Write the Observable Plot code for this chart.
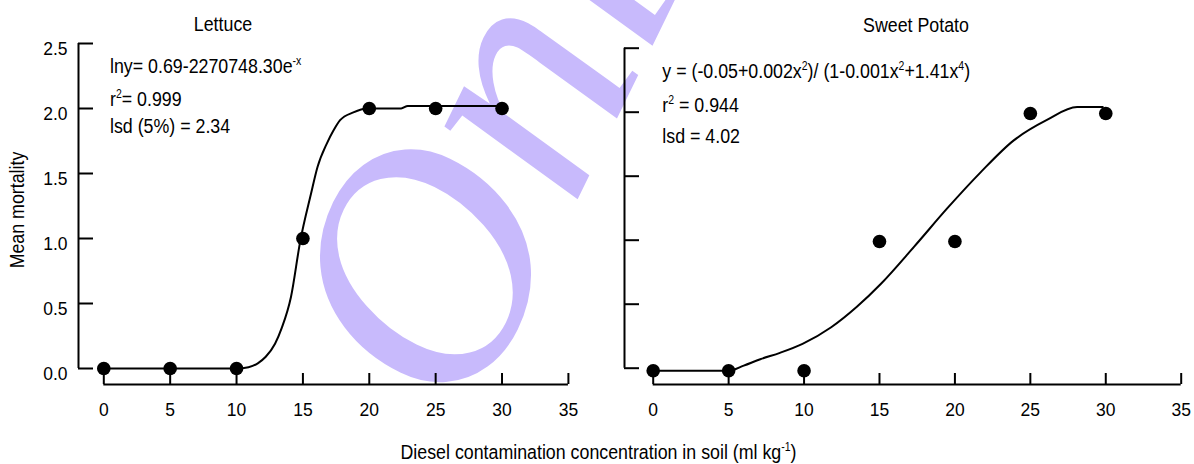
<!DOCTYPE html>
<html><head><meta charset="utf-8">
<script src="https://cdn.jsdelivr.net/npm/d3@7"></script>
<script src="https://cdn.jsdelivr.net/npm/@observablehq/plot@0.6"></script>
<style>
body{margin:0;background:#fff}
#wrap{position:relative;width:1194px;height:464px;overflow:hidden;background:#fff}
#wrap > *{position:absolute;top:0}
</style></head><body><div id="wrap"></div>
<script>
// ---- data ----
const xTicks = [0, 5, 10, 15, 20, 25, 30, 35];
const yTicks = [0, 0.5, 1, 1.5, 2, 2.5];
const doses = [0, 5, 10, 15, 20, 25, 30];
const lettuceMortality = [0, 0, 0, 1, 2, 2, 2];
const potatoMortality = [-0.02, -0.02, -0.02, 0.99, 0.99, 1.99, 1.99];
const lettuceFitX = [0, 5, 10, 10.9, 11.6, 12.2, 12.9, 13.4, 14.1, 14.8, 15.6, 16.1, 16.8, 17.3, 17.8, 18.8, 19.8, 22.4, 22.9, 30];
const lettuceFitY = [0, 0, 0, 0.01, 0.04, 0.09, 0.19, 0.31, 0.55, 0.98, 1.34, 1.55, 1.73, 1.83, 1.91, 1.97, 2.0, 2.0, 2.02, 2.02];
const potatoFitX = [0, 5, 6, 7.1, 8.4, 9.9, 11.8, 13.5, 15.1, 17.3, 19.5, 21.7, 23.9, 26.1, 28.1, 29.8];
const potatoFitY = [-0.02, -0.02, 0.02, 0.07, 0.12, 0.19, 0.32, 0.48, 0.66, 0.95, 1.25, 1.53, 1.78, 1.94, 2.04, 2.04];
const panelTitles = ["Lettuce", "Sweet Potato"];
const yTitle = "Mean mortality";
const xTitle = [["Diesel contamination concentration in soil (ml kg"], ["-1", true], [")"]];
const lettuceNotes = [
  [["lny= 0.69-2270748.30e"], ["-x", true]],
  [["r"], ["2", true], ["= 0.999"]],
  [["lsd (5%) = 2.34"]]
];
const potatoNotes = [
  [["y = (-0.05+0.002x"], ["2", true], [")/ (1-0.001x"], ["2", true], ["+1.41x"], ["4", true], [")"]],
  [["r"], ["2", true], [" = 0.944"]],
  [["lsd = 4.02"]]
];
const watermark = "Online";

const FONT = "Liberation Sans, Arial, sans-serif";
const wrap = document.getElementById("wrap");

// watermark layer (behind)
const wm = d3.create("svg").attr("width", 1194).attr("height", 464);
wm.append("text")
  .attr("transform", "translate(468,424) rotate(-64)")
  .attr("font-family", "Liberation Serif, serif")
  .attr("font-style", "italic")
  .attr("font-size", 330)
  .attr("fill", "#c8bafc")
  .text(watermark);
wrap.appendChild(wm.node());

function panel({left, width, ml, mr, mt, mb, py, fx, fy, labels, axisDx, xDy}) {
  const pts = doses.map((d, i) => ({x: d, y: py[i]}));
  const fit = fx.map((d, i) => ({x: d, y: fy[i]}));
  const p = Plot.plot({
    width, height: 464,
    marginLeft: ml, marginRight: mr, marginTop: mt, marginBottom: mb,
    x: {domain: [0, 35]},
    y: {domain: [0, 2.5]},
    style: {background: "transparent", fontFamily: FONT, fontSize: "17.5px", color: "#000", overflow: "visible"},
    marks: [
      Plot.ruleX([0], {y1: 0, y2: 2.5, dx: axisDx, strokeWidth: 2}),
      Plot.ruleY([0], {x1: 0, x2: 35, dy: xDy, strokeWidth: 2}),
      Plot.axisY({ticks: yTicks, tickSize: -15, dx: axisDx, fill: "none", strokeWidth: 2, label: null}),
      labels ? Plot.axisY({ticks: yTicks, tickSize: 0, tickPadding: 11, dx: axisDx, dy: 5, tickFormat: d3.format(".1f"), label: null}) : null,
      Plot.axisX({ticks: xTicks, tickSize: -11, dy: xDy, fill: "none", strokeWidth: 2, label: null}),
      Plot.axisX({ticks: xTicks, tickSize: 0, tickPadding: 18, dy: xDy, label: null}),
      Plot.line(fit, {x: "x", y: "y", strokeWidth: 2, curve: "monotone-x"}),
      Plot.dot(pts, {x: "x", y: "y", r: 6.8, fill: "#000"})
    ]
  });
  p.style.left = left + "px";
  p.querySelectorAll("text").forEach(t => {
    const tr = t.getAttribute("transform");
    if (tr && tr.includes("translate")) t.setAttribute("transform", tr + " scale(1,1.08)");
  });
  wrap.appendChild(p);
}

panel({left: 0, width: 597, ml: 103.3, mr: 29.1, mt: 43, mb: 96, py: lettuceMortality, fx: lettuceFitX, fy: lettuceFitY, labels: true, axisDx: -25.3, xDy: 16});
panel({left: 597, width: 597, ml: 55.7, mr: 13.3, mt: 47.7, mb: 96.3, py: potatoMortality, fx: potatoFitX, fy: potatoFitY, labels: false, axisDx: -28.7, xDy: 16.3});

// text overlay
const ov = d3.create("svg").attr("width", 1194).attr("height", 464)
  .attr("font-family", FONT).attr("font-size", 17.8).attr("fill", "#000")
  .style("pointer-events", "none");
function txt(x, y, anchor, parts, rot) {
  const t = ov.append("text")
    .attr("transform", `translate(${x},${y})${rot ? ` rotate(${rot})` : ""} scale(1,1.13)`)
    .attr("text-anchor", anchor);
  let raised = false;
  parts.forEach(([s, sup]) => {
    const ts = t.append("tspan").text(s);
    if (sup && !raised) { ts.attr("dy", -7).attr("font-size", 10.5); raised = true; }
    else if (!sup && raised) { ts.attr("dy", 7); raised = false; }
  });
}
txt(223, 30.7, "middle", [[panelTitles[0]]]);
txt(916, 31.7, "middle", [[panelTitles[1]]]);
[72.7, 106, 132.7].forEach((y, i) => txt(110, y, "start", lettuceNotes[i]));
[78.3, 111.7, 143.3].forEach((y, i) => txt(662.3, y, "start", potatoNotes[i]));
txt(24, 210, "middle", [[yTitle]], -90);
txt(598.5, 459, "middle", xTitle);
wrap.appendChild(ov.node());
</script></body></html>
